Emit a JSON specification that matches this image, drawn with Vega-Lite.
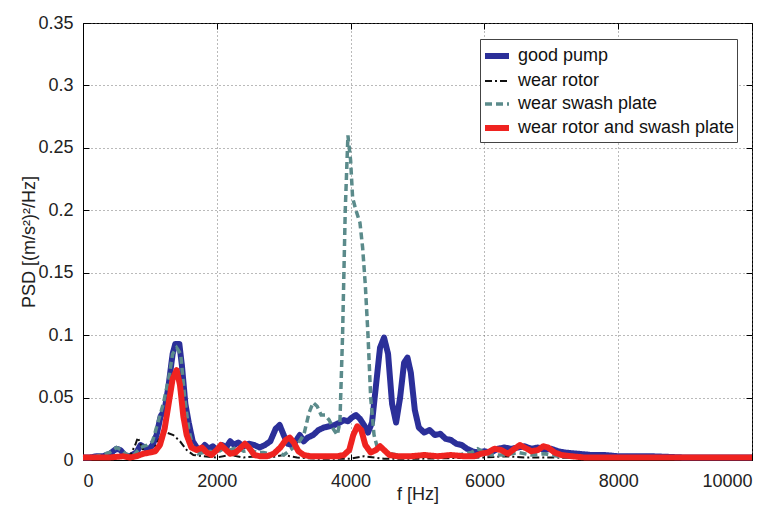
{
  "$schema": "https://vega.github.io/schema/vega-lite/v6.json",
  "width": 669,
  "height": 437,
  "autosize": {"type": "none"},
  "padding": {"left": 83, "top": 23, "right": 28, "bottom": 49},
  "background": "white",
  "config": {
    "view": {"stroke": "#000", "strokeWidth": 1},
    "font": "Liberation Sans",
    "axis": {
      "labelFont": "Liberation Sans", "labelFontSize": 18, "labelColor": "#222",
      "titleFont": "Liberation Sans", "titleFontSize": 18, "titleFontWeight": "normal", "titleColor": "#222",
      "domainColor": "#000", "tickColor": "#000", "tickSize": -6,
      "gridColor": "#666", "gridDash": [1, 3], "gridOpacity": 0.9
    }
  },
  "resolve": {"axis": {"x": "independent", "y": "independent"}},
  "data": {"values": [
    {"s":"good pump","f":0,"p":0.002},{"s":"good pump","f":100,"p":0.002},{"s":"good pump","f":200,"p":0.003},{"s":"good pump","f":300,"p":0.003},{"s":"good pump","f":400,"p":0.005},{"s":"good pump","f":500,"p":0.009},{"s":"good pump","f":560,"p":0.008},{"s":"good pump","f":620,"p":0.004},{"s":"good pump","f":700,"p":0.003},{"s":"good pump","f":800,"p":0.006},{"s":"good pump","f":860,"p":0.012},{"s":"good pump","f":920,"p":0.01},{"s":"good pump","f":980,"p":0.008},{"s":"good pump","f":1040,"p":0.012},{"s":"good pump","f":1100,"p":0.02},{"s":"good pump","f":1160,"p":0.035},{"s":"good pump","f":1220,"p":0.04},{"s":"good pump","f":1280,"p":0.06},{"s":"good pump","f":1340,"p":0.085},{"s":"good pump","f":1380,"p":0.093},{"s":"good pump","f":1440,"p":0.093},{"s":"good pump","f":1480,"p":0.075},{"s":"good pump","f":1530,"p":0.045},{"s":"good pump","f":1580,"p":0.03},{"s":"good pump","f":1640,"p":0.015},{"s":"good pump","f":1700,"p":0.01},{"s":"good pump","f":1760,"p":0.008},{"s":"good pump","f":1820,"p":0.012},{"s":"good pump","f":1880,"p":0.009},{"s":"good pump","f":1940,"p":0.011},{"s":"good pump","f":2000,"p":0.008},{"s":"good pump","f":2080,"p":0.012},{"s":"good pump","f":2140,"p":0.01},{"s":"good pump","f":2200,"p":0.015},{"s":"good pump","f":2260,"p":0.012},{"s":"good pump","f":2320,"p":0.014},{"s":"good pump","f":2400,"p":0.011},{"s":"good pump","f":2480,"p":0.013},{"s":"good pump","f":2560,"p":0.012},{"s":"good pump","f":2640,"p":0.01},{"s":"good pump","f":2720,"p":0.012},{"s":"good pump","f":2800,"p":0.015},{"s":"good pump","f":2880,"p":0.025},{"s":"good pump","f":2940,"p":0.028},{"s":"good pump","f":3000,"p":0.02},{"s":"good pump","f":3060,"p":0.013},{"s":"good pump","f":3120,"p":0.012},{"s":"good pump","f":3180,"p":0.015},{"s":"good pump","f":3240,"p":0.02},{"s":"good pump","f":3300,"p":0.015},{"s":"good pump","f":3360,"p":0.018},{"s":"good pump","f":3440,"p":0.02},{"s":"good pump","f":3520,"p":0.024},{"s":"good pump","f":3600,"p":0.026},{"s":"good pump","f":3680,"p":0.027},{"s":"good pump","f":3760,"p":0.028},{"s":"good pump","f":3840,"p":0.03},{"s":"good pump","f":3900,"p":0.032},{"s":"good pump","f":3960,"p":0.031},{"s":"good pump","f":4020,"p":0.034},{"s":"good pump","f":4080,"p":0.036},{"s":"good pump","f":4140,"p":0.033},{"s":"good pump","f":4200,"p":0.028},{"s":"good pump","f":4260,"p":0.022},{"s":"good pump","f":4320,"p":0.03},{"s":"good pump","f":4380,"p":0.06},{"s":"good pump","f":4440,"p":0.09},{"s":"good pump","f":4500,"p":0.098},{"s":"good pump","f":4560,"p":0.085},{"s":"good pump","f":4620,"p":0.045},{"s":"good pump","f":4680,"p":0.03},{"s":"good pump","f":4740,"p":0.05},{"s":"good pump","f":4800,"p":0.078},{"s":"good pump","f":4850,"p":0.082},{"s":"good pump","f":4900,"p":0.07},{"s":"good pump","f":4960,"p":0.04},{"s":"good pump","f":5020,"p":0.026},{"s":"good pump","f":5100,"p":0.022},{"s":"good pump","f":5180,"p":0.024},{"s":"good pump","f":5260,"p":0.02},{"s":"good pump","f":5340,"p":0.021},{"s":"good pump","f":5420,"p":0.017},{"s":"good pump","f":5500,"p":0.016},{"s":"good pump","f":5580,"p":0.013},{"s":"good pump","f":5660,"p":0.012},{"s":"good pump","f":5740,"p":0.009},{"s":"good pump","f":5820,"p":0.007},{"s":"good pump","f":5900,"p":0.006},{"s":"good pump","f":6000,"p":0.007},{"s":"good pump","f":6100,"p":0.006},{"s":"good pump","f":6200,"p":0.009},{"s":"good pump","f":6300,"p":0.01},{"s":"good pump","f":6400,"p":0.009},{"s":"good pump","f":6500,"p":0.01},{"s":"good pump","f":6600,"p":0.011},{"s":"good pump","f":6700,"p":0.009},{"s":"good pump","f":6800,"p":0.01},{"s":"good pump","f":6900,"p":0.008},{"s":"good pump","f":7000,"p":0.009},{"s":"good pump","f":7100,"p":0.007},{"s":"good pump","f":7200,"p":0.006},{"s":"good pump","f":7400,"p":0.005},{"s":"good pump","f":7600,"p":0.004},{"s":"good pump","f":7800,"p":0.004},{"s":"good pump","f":8000,"p":0.003},{"s":"good pump","f":8500,"p":0.003},{"s":"good pump","f":9000,"p":0.002},{"s":"good pump","f":9500,"p":0.002},{"s":"good pump","f":10000,"p":0.002},

    {"s":"wear rotor","f":0,"p":0.001},{"s":"wear rotor","f":300,"p":0.001},{"s":"wear rotor","f":500,"p":0.004},{"s":"wear rotor","f":600,"p":0.002},{"s":"wear rotor","f":700,"p":0.003},{"s":"wear rotor","f":780,"p":0.012},{"s":"wear rotor","f":820,"p":0.018},{"s":"wear rotor","f":880,"p":0.01},{"s":"wear rotor","f":950,"p":0.004},{"s":"wear rotor","f":1050,"p":0.008},{"s":"wear rotor","f":1150,"p":0.018},{"s":"wear rotor","f":1250,"p":0.022},{"s":"wear rotor","f":1350,"p":0.02},{"s":"wear rotor","f":1450,"p":0.015},{"s":"wear rotor","f":1550,"p":0.008},{"s":"wear rotor","f":1650,"p":0.004},{"s":"wear rotor","f":1800,"p":0.003},{"s":"wear rotor","f":2000,"p":0.002},{"s":"wear rotor","f":2200,"p":0.004},{"s":"wear rotor","f":2400,"p":0.002},{"s":"wear rotor","f":2600,"p":0.003},{"s":"wear rotor","f":2800,"p":0.002},{"s":"wear rotor","f":3000,"p":0.004},{"s":"wear rotor","f":3200,"p":0.002},{"s":"wear rotor","f":3500,"p":0.001},{"s":"wear rotor","f":4000,"p":0.001},{"s":"wear rotor","f":4200,"p":0.003},{"s":"wear rotor","f":4500,"p":0.001},{"s":"wear rotor","f":5000,"p":0.001},{"s":"wear rotor","f":6000,"p":0.002},{"s":"wear rotor","f":6300,"p":0.003},{"s":"wear rotor","f":6600,"p":0.002},{"s":"wear rotor","f":7000,"p":0.002},{"s":"wear rotor","f":8000,"p":0.001},{"s":"wear rotor","f":10000,"p":0.001},

    {"s":"wear swash plate","f":0,"p":0.002},{"s":"wear swash plate","f":200,"p":0.003},{"s":"wear swash plate","f":400,"p":0.006},{"s":"wear swash plate","f":500,"p":0.01},{"s":"wear swash plate","f":580,"p":0.008},{"s":"wear swash plate","f":660,"p":0.004},{"s":"wear swash plate","f":760,"p":0.004},{"s":"wear swash plate","f":860,"p":0.01},{"s":"wear swash plate","f":960,"p":0.012},{"s":"wear swash plate","f":1040,"p":0.015},{"s":"wear swash plate","f":1120,"p":0.03},{"s":"wear swash plate","f":1200,"p":0.045},{"s":"wear swash plate","f":1280,"p":0.065},{"s":"wear swash plate","f":1340,"p":0.085},{"s":"wear swash plate","f":1400,"p":0.09},{"s":"wear swash plate","f":1460,"p":0.085},{"s":"wear swash plate","f":1520,"p":0.05},{"s":"wear swash plate","f":1580,"p":0.025},{"s":"wear swash plate","f":1640,"p":0.01},{"s":"wear swash plate","f":1720,"p":0.005},{"s":"wear swash plate","f":1800,"p":0.006},{"s":"wear swash plate","f":1900,"p":0.007},{"s":"wear swash plate","f":2000,"p":0.006},{"s":"wear swash plate","f":2100,"p":0.009},{"s":"wear swash plate","f":2200,"p":0.008},{"s":"wear swash plate","f":2300,"p":0.01},{"s":"wear swash plate","f":2400,"p":0.007},{"s":"wear swash plate","f":2500,"p":0.008},{"s":"wear swash plate","f":2600,"p":0.006},{"s":"wear swash plate","f":2700,"p":0.006},{"s":"wear swash plate","f":2800,"p":0.005},{"s":"wear swash plate","f":2900,"p":0.006},{"s":"wear swash plate","f":3000,"p":0.004},{"s":"wear swash plate","f":3100,"p":0.008},{"s":"wear swash plate","f":3200,"p":0.012},{"s":"wear swash plate","f":3300,"p":0.02},{"s":"wear swash plate","f":3380,"p":0.038},{"s":"wear swash plate","f":3440,"p":0.046},{"s":"wear swash plate","f":3500,"p":0.043},{"s":"wear swash plate","f":3560,"p":0.036},{"s":"wear swash plate","f":3620,"p":0.036},{"s":"wear swash plate","f":3680,"p":0.032},{"s":"wear swash plate","f":3740,"p":0.025},{"s":"wear swash plate","f":3800,"p":0.02},{"s":"wear swash plate","f":3840,"p":0.03},{"s":"wear swash plate","f":3880,"p":0.1},{"s":"wear swash plate","f":3920,"p":0.2},{"s":"wear swash plate","f":3960,"p":0.26},{"s":"wear swash plate","f":4000,"p":0.24},{"s":"wear swash plate","f":4030,"p":0.21},{"s":"wear swash plate","f":4080,"p":0.2},{"s":"wear swash plate","f":4140,"p":0.19},{"s":"wear swash plate","f":4180,"p":0.17},{"s":"wear swash plate","f":4220,"p":0.14},{"s":"wear swash plate","f":4260,"p":0.1},{"s":"wear swash plate","f":4300,"p":0.05},{"s":"wear swash plate","f":4350,"p":0.02},{"s":"wear swash plate","f":4400,"p":0.01},{"s":"wear swash plate","f":4500,"p":0.008},{"s":"wear swash plate","f":4600,"p":0.005},{"s":"wear swash plate","f":4700,"p":0.004},{"s":"wear swash plate","f":4800,"p":0.003},{"s":"wear swash plate","f":5000,"p":0.003},{"s":"wear swash plate","f":5200,"p":0.004},{"s":"wear swash plate","f":5400,"p":0.003},{"s":"wear swash plate","f":5600,"p":0.004},{"s":"wear swash plate","f":5800,"p":0.006},{"s":"wear swash plate","f":5900,"p":0.009},{"s":"wear swash plate","f":6000,"p":0.006},{"s":"wear swash plate","f":6100,"p":0.004},{"s":"wear swash plate","f":6300,"p":0.004},{"s":"wear swash plate","f":6500,"p":0.006},{"s":"wear swash plate","f":6700,"p":0.004},{"s":"wear swash plate","f":6900,"p":0.005},{"s":"wear swash plate","f":7100,"p":0.003},{"s":"wear swash plate","f":7500,"p":0.002},{"s":"wear swash plate","f":8000,"p":0.002},{"s":"wear swash plate","f":9000,"p":0.002},{"s":"wear swash plate","f":10000,"p":0.002},

    {"s":"wear rotor and swash plate","f":0,"p":0.002},{"s":"wear rotor and swash plate","f":200,"p":0.002},{"s":"wear rotor and swash plate","f":400,"p":0.002},{"s":"wear rotor and swash plate","f":600,"p":0.003},{"s":"wear rotor and swash plate","f":700,"p":0.002},{"s":"wear rotor and swash plate","f":800,"p":0.003},{"s":"wear rotor and swash plate","f":900,"p":0.005},{"s":"wear rotor and swash plate","f":1000,"p":0.006},{"s":"wear rotor and swash plate","f":1080,"p":0.007},{"s":"wear rotor and swash plate","f":1150,"p":0.012},{"s":"wear rotor and swash plate","f":1220,"p":0.025},{"s":"wear rotor and swash plate","f":1280,"p":0.045},{"s":"wear rotor and swash plate","f":1340,"p":0.065},{"s":"wear rotor and swash plate","f":1400,"p":0.072},{"s":"wear rotor and swash plate","f":1450,"p":0.06},{"s":"wear rotor and swash plate","f":1500,"p":0.035},{"s":"wear rotor and swash plate","f":1550,"p":0.02},{"s":"wear rotor and swash plate","f":1620,"p":0.01},{"s":"wear rotor and swash plate","f":1700,"p":0.008},{"s":"wear rotor and swash plate","f":1780,"p":0.01},{"s":"wear rotor and swash plate","f":1850,"p":0.006},{"s":"wear rotor and swash plate","f":1920,"p":0.004},{"s":"wear rotor and swash plate","f":2000,"p":0.008},{"s":"wear rotor and swash plate","f":2060,"p":0.012},{"s":"wear rotor and swash plate","f":2120,"p":0.009},{"s":"wear rotor and swash plate","f":2200,"p":0.005},{"s":"wear rotor and swash plate","f":2280,"p":0.006},{"s":"wear rotor and swash plate","f":2360,"p":0.01},{"s":"wear rotor and swash plate","f":2420,"p":0.013},{"s":"wear rotor and swash plate","f":2480,"p":0.01},{"s":"wear rotor and swash plate","f":2560,"p":0.004},{"s":"wear rotor and swash plate","f":2650,"p":0.003},{"s":"wear rotor and swash plate","f":2750,"p":0.003},{"s":"wear rotor and swash plate","f":2850,"p":0.005},{"s":"wear rotor and swash plate","f":2950,"p":0.01},{"s":"wear rotor and swash plate","f":3030,"p":0.016},{"s":"wear rotor and swash plate","f":3090,"p":0.018},{"s":"wear rotor and swash plate","f":3150,"p":0.014},{"s":"wear rotor and swash plate","f":3220,"p":0.007},{"s":"wear rotor and swash plate","f":3300,"p":0.004},{"s":"wear rotor and swash plate","f":3400,"p":0.003},{"s":"wear rotor and swash plate","f":3500,"p":0.003},{"s":"wear rotor and swash plate","f":3600,"p":0.003},{"s":"wear rotor and swash plate","f":3700,"p":0.003},{"s":"wear rotor and swash plate","f":3800,"p":0.003},{"s":"wear rotor and swash plate","f":3900,"p":0.004},{"s":"wear rotor and swash plate","f":3980,"p":0.008},{"s":"wear rotor and swash plate","f":4040,"p":0.02},{"s":"wear rotor and swash plate","f":4100,"p":0.027},{"s":"wear rotor and swash plate","f":4160,"p":0.024},{"s":"wear rotor and swash plate","f":4220,"p":0.012},{"s":"wear rotor and swash plate","f":4300,"p":0.006},{"s":"wear rotor and swash plate","f":4380,"p":0.008},{"s":"wear rotor and swash plate","f":4440,"p":0.011},{"s":"wear rotor and swash plate","f":4500,"p":0.008},{"s":"wear rotor and swash plate","f":4580,"p":0.004},{"s":"wear rotor and swash plate","f":4700,"p":0.003},{"s":"wear rotor and swash plate","f":4900,"p":0.003},{"s":"wear rotor and swash plate","f":5100,"p":0.004},{"s":"wear rotor and swash plate","f":5300,"p":0.003},{"s":"wear rotor and swash plate","f":5500,"p":0.004},{"s":"wear rotor and swash plate","f":5700,"p":0.003},{"s":"wear rotor and swash plate","f":5850,"p":0.003},{"s":"wear rotor and swash plate","f":5950,"p":0.005},{"s":"wear rotor and swash plate","f":6050,"p":0.006},{"s":"wear rotor and swash plate","f":6150,"p":0.009},{"s":"wear rotor and swash plate","f":6250,"p":0.008},{"s":"wear rotor and swash plate","f":6350,"p":0.005},{"s":"wear rotor and swash plate","f":6450,"p":0.009},{"s":"wear rotor and swash plate","f":6530,"p":0.012},{"s":"wear rotor and swash plate","f":6600,"p":0.01},{"s":"wear rotor and swash plate","f":6700,"p":0.007},{"s":"wear rotor and swash plate","f":6800,"p":0.008},{"s":"wear rotor and swash plate","f":6880,"p":0.011},{"s":"wear rotor and swash plate","f":6950,"p":0.01},{"s":"wear rotor and swash plate","f":7050,"p":0.006},{"s":"wear rotor and swash plate","f":7150,"p":0.004},{"s":"wear rotor and swash plate","f":7300,"p":0.003},{"s":"wear rotor and swash plate","f":7500,"p":0.002},{"s":"wear rotor and swash plate","f":8000,"p":0.002},{"s":"wear rotor and swash plate","f":9000,"p":0.002},{"s":"wear rotor and swash plate","f":10000,"p":0.002}
  ]},
  "layer": [
    {
      "encoding": {
        "x": {"field": "f", "type": "quantitative", "scale": {"domain": [0, 10000], "nice": false},
          "axis": {"title": "f [Hz]", "values": [0, 2000, 4000, 6000, 8000, 10000], "format": "d", "labelPadding": 18, "titlePadding": -5}},
        "y": {"field": "p", "type": "quantitative", "scale": {"domain": [0, 0.35], "nice": false},
          "axis": {"title": "PSD [(m/s²)²/Hz]", "values": [0, 0.05, 0.1, 0.15, 0.2, 0.25, 0.3, 0.35], "labelExpr": "datum.value == 0 ? '0' : format(datum.value, '.2~f')", "labelPadding": 16, "titlePadding": -1}},
        "color": {"field": "s", "type": "nominal",
          "scale": {"domain": ["good pump", "wear rotor", "wear swash plate", "wear rotor and swash plate"], "range": ["#2b2f99", "#111111", "#5b8b8b", "#ef2320"]},
          "legend": {"title": null, "orient": "none", "legendX": 397, "legendY": 16, "symbolType": "stroke", "symbolSize": 576,
            "labelFont": "Liberation Sans", "labelFontSize": 18, "labelColor": "#111", "labelLimit": 0, "fillColor": "white", "strokeColor": "#444",
            "padding": 2, "rowPadding": -11, "labelOffset": 6}},
        "strokeDash": {"field": "s", "type": "nominal",
          "scale": {"domain": ["good pump", "wear rotor", "wear swash plate", "wear rotor and swash plate"], "range": [[1, 0], [7, 3, 2, 3], [7, 4], [1, 0]]}},
        "strokeWidth": {"field": "s", "type": "nominal",
          "scale": {"type": "ordinal", "domain": ["good pump", "wear rotor", "wear swash plate", "wear rotor and swash plate"], "range": [6, 2, 3.5, 6]}}
      },
      "layer": [
        {"transform": [{"filter": "datum.s == 'good pump'"}], "mark": {"type": "line", "strokeJoin": "round"}},
        {"transform": [{"filter": "datum.s == 'wear rotor'"}], "mark": {"type": "line"}},
        {"transform": [{"filter": "datum.s == 'wear swash plate'"}], "mark": {"type": "line"}},
        {"transform": [{"filter": "datum.s == 'wear rotor and swash plate'"}], "mark": {"type": "line", "strokeJoin": "round"}}
      ]
    },
    {"transform": [{"filter": "datum.s == 'wear rotor'"}], "mark": {"type": "line", "opacity": 0},
      "encoding": {
        "x": {"field": "f", "type": "quantitative", "axis": {"orient": "top", "title": null, "labels": false, "grid": false, "domain": false, "values": [0, 2000, 4000, 6000, 8000, 10000]}},
        "y": {"field": "p", "type": "quantitative", "axis": {"orient": "right", "title": null, "labels": false, "grid": false, "domain": false, "values": [0, 0.05, 0.1, 0.15, 0.2, 0.25, 0.3, 0.35]}}
      }}
  ]
}
